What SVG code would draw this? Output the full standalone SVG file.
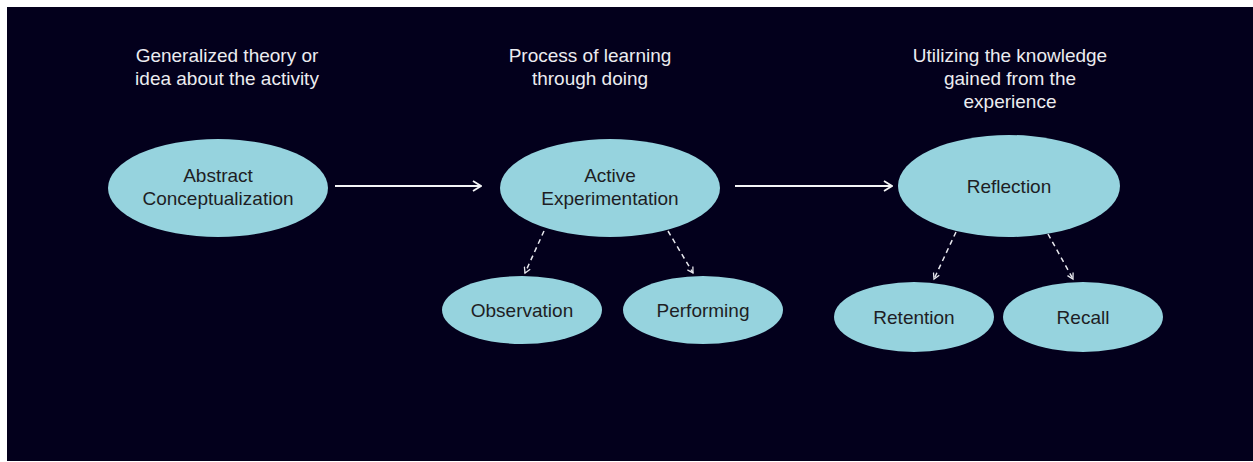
<svg xmlns="http://www.w3.org/2000/svg" width="1253" height="462" viewBox="0 0 1253 462">
  <style>
    .node ellipse { fill: #96d3de; }
    .node text { font-family: "Liberation Sans", Arial, sans-serif; font-size: 19px; fill: #1e1e24; text-anchor: middle; }
    .caption text { font-family: "Liberation Sans", Arial, sans-serif; font-size: 19px; fill: #ececf0; text-anchor: middle; }
    .solid { stroke: #f4f4f6; stroke-width: 2; fill: none; }
    .dashed { stroke: #e8e8ee; stroke-width: 1.5; stroke-dasharray: 5 4; fill: none; }
  </style>
  <defs>
    <marker id="chev" viewBox="0 0 10 12" refX="9" refY="6" markerWidth="10" markerHeight="12" markerUnits="userSpaceOnUse" orient="auto">
      <path d="M1,1 L9,6 L1,11" fill="none" stroke="#f4f4f6" stroke-width="1.8"/>
    </marker>
    <marker id="chev-small" viewBox="0 0 10 10" refX="8" refY="5" markerWidth="8" markerHeight="8" markerUnits="userSpaceOnUse" orient="auto">
      <path d="M1,1 L8,5 L1,9" fill="none" stroke="#e8e8ee" stroke-width="1.6"/>
    </marker>
  </defs>

  <!-- page and backdrop -->
  <rect x="0" y="0" width="1253" height="462" fill="#ffffff"/>
  <rect x="7" y="7" width="1246" height="454" fill="#03001c"/>

  <!-- captions above each stage -->
  <g id="caption-abstract" class="caption">
    <text x="227" y="62">Generalized theory or</text>
    <text x="227" y="85">idea about the activity</text>
  </g>
  <g id="caption-active" class="caption">
    <text x="590" y="62">Process of learning</text>
    <text x="590" y="85">through doing</text>
  </g>
  <g id="caption-reflection" class="caption">
    <text x="1010" y="62">Utilizing the knowledge</text>
    <text x="1010" y="85">gained from the</text>
    <text x="1010" y="108">experience</text>
  </g>

  <!-- connectors -->
  <g id="connectors">
    <line class="solid" x1="335" y1="186" x2="481" y2="186" marker-end="url(#chev)"/>
    <line class="solid" x1="735" y1="186" x2="892" y2="186" marker-end="url(#chev)"/>
    <line class="dashed" x1="544" y1="231" x2="525" y2="273" marker-end="url(#chev-small)"/>
    <line class="dashed" x1="668" y1="231" x2="693" y2="273" marker-end="url(#chev-small)"/>
    <line class="dashed" x1="956" y1="232" x2="934" y2="279" marker-end="url(#chev-small)"/>
    <line class="dashed" x1="1048" y1="234" x2="1073" y2="279" marker-end="url(#chev-small)"/>
  </g>

  <!-- stage nodes -->
  <g id="node-abstract" class="node">
    <ellipse cx="218" cy="188" rx="110" ry="49"/>
    <text x="218" y="182">Abstract</text>
    <text x="218" y="205">Conceptualization</text>
  </g>
  <g id="node-active" class="node">
    <ellipse cx="610" cy="188" rx="110" ry="49"/>
    <text x="610" y="182">Active</text>
    <text x="610" y="205">Experimentation</text>
  </g>
  <g id="node-reflection" class="node">
    <ellipse cx="1009" cy="186" rx="111" ry="51"/>
    <text x="1009" y="193">Reflection</text>
  </g>
  <g id="node-observation" class="node">
    <ellipse cx="522" cy="310" rx="80" ry="34"/>
    <text x="522" y="317">Observation</text>
  </g>
  <g id="node-performing" class="node">
    <ellipse cx="703" cy="310" rx="80" ry="34"/>
    <text x="703" y="317">Performing</text>
  </g>
  <g id="node-retention" class="node">
    <ellipse cx="914" cy="317" rx="80" ry="35"/>
    <text x="914" y="324">Retention</text>
  </g>
  <g id="node-recall" class="node">
    <ellipse cx="1083" cy="317" rx="80" ry="35"/>
    <text x="1083" y="324">Recall</text>
  </g>
</svg>
